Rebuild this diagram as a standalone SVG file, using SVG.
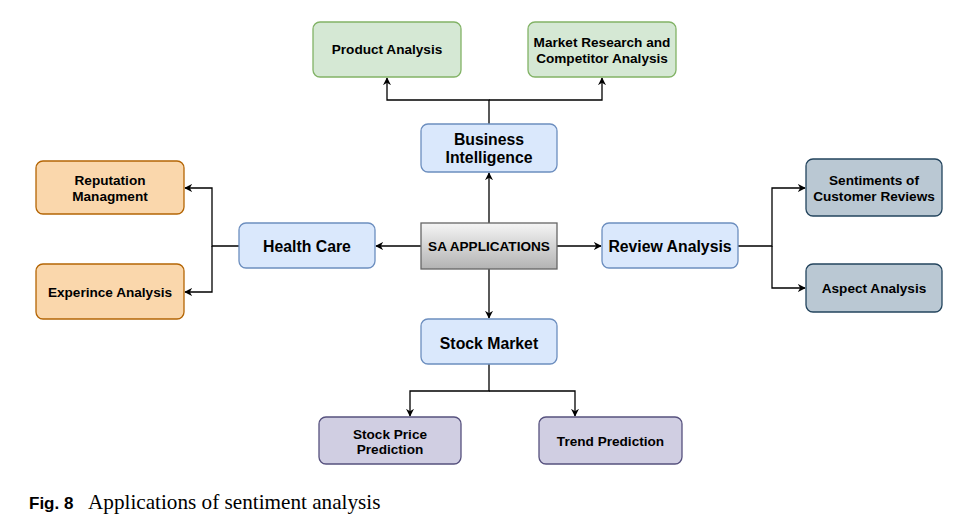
<svg xmlns="http://www.w3.org/2000/svg" width="967" height="532" viewBox="0 0 967 532">
<style>
.n{stroke-width:1.3}
.g{fill:#d5e8d4;stroke:#82b366}
.b{fill:#dae8fc;stroke:#6c8ebf}
.o{fill:#fad7ac;stroke:#b46504}
.s{fill:#bac8d3;stroke:#23445d}
.p{fill:#d0cee2;stroke:#56517e}
text{font-family:"Liberation Sans",Arial,sans-serif;font-weight:bold;fill:#000;text-anchor:middle}
.t13{font-size:13.6px}
.t15{font-size:15.8px}
.c{fill:none;stroke:#000;stroke-width:1.3}
</style>
<defs>
<linearGradient id="sag" x1="0" y1="0" x2="0" y2="1">
<stop offset="0" stop-color="#f5f5f5"/>
<stop offset="1" stop-color="#b3b3b3"/>
</linearGradient>
<marker id="ah" viewBox="0 0 10 10" refX="9" refY="5" markerWidth="8" markerHeight="8" markerUnits="userSpaceOnUse" orient="auto">
<path d="M0,0 L10,5 L0,10 L3,5 z" fill="#000"/>
</marker>
</defs>
<rect width="967" height="532" fill="#fff"/>
<g id="connectors">
<path class="c" d="M489,223 V173" marker-end="url(#ah)"/>
<path class="c" d="M489,124 V100 H387 V78" marker-end="url(#ah)"/>
<path class="c" d="M489,100 H602 V78" marker-end="url(#ah)"/>
<path class="c" d="M421,246 H376" marker-end="url(#ah)"/>
<path class="c" d="M239,246 H212 V188 H185" marker-end="url(#ah)"/>
<path class="c" d="M212,246 V292 H185" marker-end="url(#ah)"/>
<path class="c" d="M557,246 H601" marker-end="url(#ah)"/>
<path class="c" d="M738,246 H772 V188 H805" marker-end="url(#ah)"/>
<path class="c" d="M772,246 V288 H805" marker-end="url(#ah)"/>
<path class="c" d="M489,269 V318" marker-end="url(#ah)"/>
<path class="c" d="M489,364 V391 H410 V416" marker-end="url(#ah)"/>
<path class="c" d="M489,391 H575 V416" marker-end="url(#ah)"/>
</g>
<g id="product-analysis"><rect class="n g" x="313" y="22" width="148" height="55" rx="7"/><text class="t13" x="387" y="54">Product Analysis</text></g>
<g id="market-research"><rect class="n g" x="528" y="22" width="148" height="55" rx="7"/><text class="t13" x="602" y="46.5">Market Research and</text><text class="t13" x="602" y="62.5">Competitor Analysis</text></g>
<g id="business-intelligence"><rect class="n b" x="421" y="124" width="136" height="48" rx="7"/><text class="t15" x="489" y="144.5">Business</text><text class="t15" x="489" y="162.5">Intelligence</text></g>
<g id="reputation"><rect class="n o" x="36" y="161" width="148" height="53" rx="7"/><text class="t13" x="110" y="184.5">Reputation</text><text class="t13" x="110" y="200.5">Managment</text></g>
<g id="experince"><rect class="n o" x="36" y="264" width="148" height="55" rx="7"/><text class="t13" x="110" y="296.5">Experince Analysis</text></g>
<g id="health-care"><rect class="n b" x="239" y="223" width="136" height="45" rx="7"/><text class="t15" x="307" y="251.5">Health Care</text></g>
<g id="sa-applications"><rect x="421" y="223" width="136" height="46" fill="url(#sag)" stroke="#666" stroke-width="1.3"/><text class="t13" x="489" y="250.5">SA APPLICATIONS</text></g>
<g id="review-analysis"><rect class="n b" x="602" y="223" width="136" height="45" rx="7"/><text class="t15" x="670" y="251.5">Review Analysis</text></g>
<g id="sentiments"><rect class="n s" x="806" y="159" width="136" height="57" rx="7"/><text class="t13" x="874" y="184.5">Sentiments of</text><text class="t13" x="874" y="200.5">Customer Reviews</text></g>
<g id="aspect-analysis"><rect class="n s" x="806" y="264" width="136" height="48" rx="7"/><text class="t13" x="874" y="292.5">Aspect Analysis</text></g>
<g id="stock-market"><rect class="n b" x="421" y="319" width="136" height="45" rx="7"/><text class="t15" x="489" y="348.5">Stock Market</text></g>
<g id="stock-price"><rect class="n p" x="319" y="417" width="142" height="47" rx="7"/><text class="t13" x="390" y="438.5">Stock Price</text><text class="t13" x="390" y="453.5">Prediction</text></g>
<g id="trend-prediction"><rect class="n p" x="539" y="417" width="143" height="47" rx="7"/><text class="t13" x="610.5" y="445.5">Trend Prediction</text></g>
<g id="caption">
<text x="29" y="509" style="text-anchor:start;font-size:17px;font-family:'Liberation Sans',Arial,sans-serif;font-weight:bold">Fig. 8</text>
<text x="88" y="509" style="text-anchor:start;font-size:21.2px;font-family:'Liberation Serif','Times New Roman',serif;font-weight:normal">Applications of sentiment analysis</text>
</g>
</svg>
